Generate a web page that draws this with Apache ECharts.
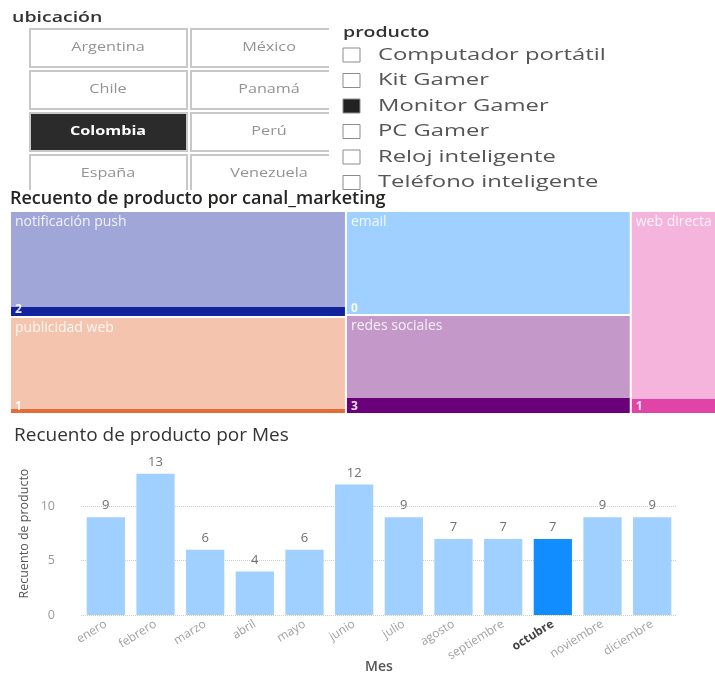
<!DOCTYPE html>
<html>
<head>
<meta charset="utf-8">
<script src="https://cdn.jsdelivr.net/npm/echarts@6/dist/echarts.min.js"></script>
<style>
  html, body { margin: 0; padding: 0; background: #fff; }
  #main { width: 715px; height: 675px; }
</style>
</head>
<body>
<div id="main"></div>
<script>
// segmentación ubicación
const paises = ['Argentina', 'México', 'Chile', 'Panamá', 'Colombia', 'Perú', 'España', 'Venezuela']
const paisSeleccionado = 'Colombia'

// segmentación producto
const productos = ['Computador portátil', 'Kit Gamer', 'Monitor Gamer', 'PC Gamer', 'Reloj inteligente', 'Teléfono inteligente']
const productoSeleccionado = 'Monitor Gamer'

// treemap canal_marketing: total y parte resaltada (octubre)
const canales = ['notificación push', 'publicidad web', 'email', 'redes sociales', 'web directa']
const totalCanal = [24, 22, 20, 19, 14]
const resaltadoCanal = [2, 1, 0, 3, 1]

// barras por mes
const meses = ['enero', 'febrero', 'marzo', 'abril', 'mayo', 'junio', 'julio', 'agosto', 'septiembre', 'octubre', 'noviembre', 'diciembre']
const recuentoMes = [9, 13, 6, 4, 6, 12, 9, 7, 7, 7, 9, 9]
const mesResaltado = 'octubre'
const ticksY = [0, 5, 10]

// estilos
const fuente = '"Segoe UI", "Open Sans", "Noto Sans", sans-serif'
const coloresFuertes = ['#12239E', '#E66C37', '#118DFF', '#6B007B', '#E044A7']
const coloresClaros = ['#A0A7D8', '#F5C4AF', '#9FD0FF', '#C499CA', '#F5B4DC']

const myChart = echarts.init(document.querySelector('#main'))

// títulos de las segmentaciones (texto algo ensanchado como en la captura)
const titulosSeg = [
    { type: 'text', x: 12, y: 18, scaleX: 1.3, style: { text: 'ubicación', fill: '#333', fontSize: 15, fontWeight: 600, fontFamily: fuente, verticalAlign: 'middle' } },
    { type: 'text', x: 343, y: 33, scaleX: 1.3, style: { text: 'producto', fill: '#333', fontSize: 15, fontWeight: 600, fontFamily: fuente, verticalAlign: 'middle' } }
]

// botones de ubicación
const anchoCol = [157, 146]
const botones = paises.map((p, i) => {
    const col = i % 2
    const fila = Math.floor(i / 2)
    const activo = p === paisSeleccionado
    return {
        type: 'group',
        x: 30 + col * 161,
        y: 29 + fila * 42,
        children: [
            {
                type: 'rect',
                shape: { x: 0, y: 0, width: anchoCol[col], height: 38 },
                style: { fill: activo ? '#2b2b2b' : '#fff', stroke: '#c8c8c8', lineWidth: 2 }
            },
            {
                type: 'text',
                x: 78, y: 19, scaleX: 1.35,
                style: {
                    text: p, fill: activo ? '#fff' : '#939393', fontSize: 12, fontFamily: fuente,
                    fontWeight: activo ? 'bold' : 'normal', align: 'center', verticalAlign: 'middle'
                }
            }
        ]
    }
})

// casillas de producto
const casillas = productos.map((p, i) => {
    const cy = 55 + i * 25.5
    const activo = p === productoSeleccionado
    return {
        type: 'group',
        children: [
            {
                type: 'rect',
                shape: { x: 343, y: cy - 7, width: 17, height: 14 },
                style: { fill: activo ? '#222' : '#fff', stroke: '#8c8c8c', lineWidth: 1 }
            },
            {
                type: 'text',
                x: 378, y: cy, scaleX: 1.4,
                style: { text: p, fill: '#555', fontSize: 17, fontFamily: fuente, verticalAlign: 'middle' }
            }
        ]
    }
})

// recortes blancos del visual de ubicación (debajo de los títulos)
const cortes = [
    { type: 'rect', z: 1, shape: { x: 329, y: 20, width: 13, height: 172 }, style: { fill: '#fff' } },
    { type: 'rect', z: 1, shape: { x: 0, y: 190, width: 341, height: 6 }, style: { fill: '#fff' } }
]

// datos del treemap con franja inferior resaltada
const datosTreemap = canales.map((c, i) => {
    const f = resaltadoCanal[i] / totalCanal[i]
    return {
        name: c,
        value: totalCanal[i],
        itemStyle: {
            color: {
                type: 'linear', x: 0, y: 0, x2: 0, y2: 1,
                colorStops: [
                    { offset: 0, color: coloresClaros[i] },
                    { offset: 1 - f, color: coloresClaros[i] },
                    { offset: 1 - f, color: coloresFuertes[i] },
                    { offset: 1, color: coloresFuertes[i] }
                ]
            }
        }
    }
})

const baseTreemap = {
    type: 'treemap',
    left: 11, top: 212, width: 721, height: 201,
    squareRatio: 2,
    roam: false,
    nodeClick: false,
    animation: false,
    breadcrumb: { show: false },
    emphasis: { disabled: true }
}

const option = {
    animation: false,
    title: [
        { text: 'Recuento de producto por canal_marketing', left: 10, top: 190, padding: 0, textStyle: { fontSize: 18, fontWeight: 600, color: '#252423', fontFamily: fuente } },
        { text: 'Recuento de producto por Mes', left: 14, top: 426, padding: 0, textStyle: { fontSize: 19, fontWeight: 'normal', color: '#333', fontFamily: fuente } }
    ],
    graphic: [...botones, ...casillas, ...cortes, ...titulosSeg],
    grid: { left: 81, right: 38, top: 452, bottom: 60, outerBoundsMode: 'none' },
    xAxis: {
        type: 'category',
        data: meses,
        name: 'Mes',
        nameLocation: 'middle',
        nameGap: 45,
        nameMoveOverlap: false,
        nameTextStyle: { fontSize: 14, fontWeight: 600, color: '#555', fontFamily: fuente },
        axisLine: { show: false },
        axisTick: { show: false },
        axisLabel: {
            rotate: 32, margin: 8, fontSize: 12, color: '#a0a0a0', fontFamily: fuente,
            formatter: v => v === mesResaltado ? `{b|${v}}` : v,
            rich: { b: { fontWeight: 'bold', color: '#444', fontSize: 12, fontFamily: fuente } }
        }
    },
    yAxis: {
        type: 'value',
        min: 0, max: 15, interval: 5,
        name: 'Recuento de producto',
        nameLocation: 'middle',
        nameGap: 50,
        nameMoveOverlap: false,
        nameTextStyle: { fontSize: 12.5, color: '#555', fontFamily: fuente },
        axisLabel: {
            fontSize: 12.5, color: '#999', margin: 26, fontFamily: fuente, showMaxLabel: false,
            formatter: v => ticksY.includes(v) ? String(v) : ''
        },
        splitLine: { showMaxLine: false, lineStyle: { type: 'dotted', color: '#cfcfcf' } }
    },
    series: [
        {
            ...baseTreemap,
            itemStyle: { borderWidth: 0, gapWidth: 2, borderColor: '#fff' },
            label: {
                show: true, position: 'insideTopLeft', padding: [3, 5, 0, 4],
                fontSize: 14, color: 'rgba(255,255,255,0.85)', fontFamily: fuente,
                formatter: '{b}'
            },
            data: datosTreemap
        },
        {
            ...baseTreemap,
            silent: true,
            itemStyle: { borderWidth: 0, gapWidth: 2, borderColor: 'rgba(0,0,0,0)', color: 'rgba(0,0,0,0)' },
            label: {
                show: true, position: 'insideBottomLeft', padding: [0, 5, 0, 4],
                fontSize: 12, fontWeight: 'bold', color: 'rgba(255,255,255,0.9)', fontFamily: fuente,
                formatter: p => String(resaltadoCanal[canales.indexOf(p.name)])
            },
            data: canales.map((c, i) => ({ name: c, value: totalCanal[i], itemStyle: { color: 'rgba(0,0,0,0)' } }))
        },
        {
            type: 'bar',
            barCategoryGap: '23%',
            data: recuentoMes.map((v, i) => ({
                value: v,
                itemStyle: { color: meses[i] === mesResaltado ? '#118DFF' : '#9FD0FF' }
            })),
            label: { show: true, position: 'top', distance: 5, fontSize: 13, color: '#707070', fontFamily: fuente }
        }
    ]
}
myChart.setOption(option)
</script>
</body>
</html>
